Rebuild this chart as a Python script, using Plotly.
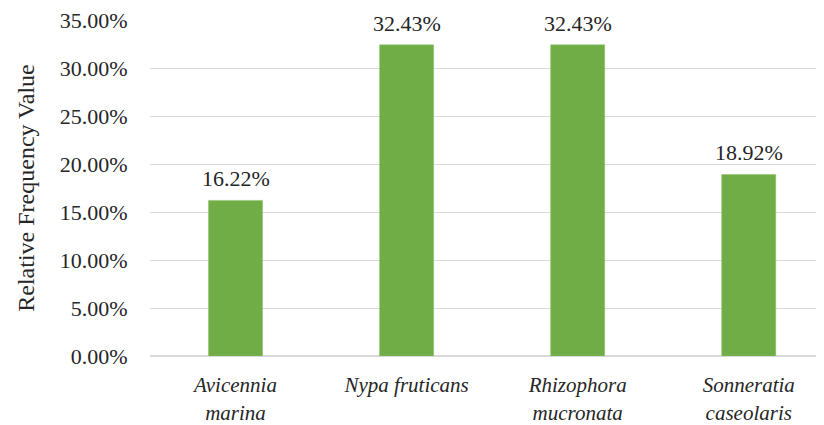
import plotly.graph_objects as go

species = ["Avicennia<br>marina", "Nypa fruticans", "Rhizophora<br>mucronata", "Sonneratia<br>caseolaris"]
rel_freq = [0.1622, 0.3243, 0.3243, 0.1892]
y_ticks = [0, 0.05, 0.10, 0.15, 0.20, 0.25, 0.30, 0.35]

FONT = "Liberation Serif, Times New Roman, serif"
TXT = "#262626"

fig = go.Figure()
fig.add_trace(go.Bar(
    x=species, y=rel_freq, width=0.316,
    marker=dict(color="#70AD47", line=dict(color="#8cc06a", width=0.5)),
    showlegend=False, hoverinfo="skip",
))
for s, v in zip(species, rel_freq):
    fig.add_annotation(x=s, y=v, text=f"{v*100:.2f}%", showarrow=False,
                       yanchor="bottom", yshift=7,
                       font=dict(family=FONT, size=22, color=TXT))

# page body has an 8px default margin, so the figure is 8px smaller
fig.update_layout(
    width=816, height=417,
    margin=dict(l=142, r=0, t=12, b=69, autoexpand=False),
    plot_bgcolor="white", paper_bgcolor="white",
    font=dict(family=FONT, size=22, color=TXT),
)
fig.update_xaxes(
    range=[-0.5, 3.44], showgrid=False, showline=False, zeroline=False,
    automargin=False,
    tickfont=dict(family=FONT, size=21, color=TXT, style="italic"),
    ticks="outside", ticklen=10, tickcolor="rgba(0,0,0,0)",
)
fig.update_yaxes(
    range=[0, 0.3502], tickvals=y_ticks, tickformat=".2%",
    automargin=False, ticklabeloverflow="allow",
    showgrid=True, gridcolor="#d9d9d9", gridwidth=1.3,
    zeroline=True, zerolinecolor="#d9d9d9", zerolinewidth=1.5,
    showline=False,
    ticks="outside", ticklen=17, tickcolor="rgba(0,0,0,0)",
    tickfont=dict(family=FONT, size=22, color=TXT),
    title=dict(text="Relative Frequency Value", standoff=18,
               font=dict(family=FONT, size=24, color=TXT)),
)
fig.write_html("out.html")
